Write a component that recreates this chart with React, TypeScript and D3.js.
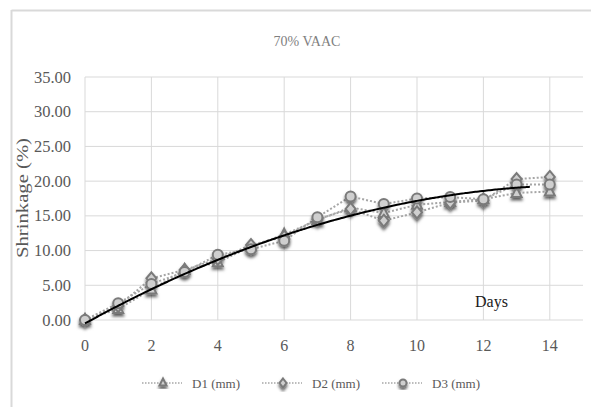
import React from "react";
import * as d3 from "d3";

const days = [0, 1, 2, 3, 4, 5, 6, 7, 8, 9, 10, 11, 12, 13, 14];
const d1 = [0.0, 1.6, 4.4, 7.2, 8.3, 10.6, 12.3, 14.4, 16.2, 15.4, 16.6, 17.0, 17.4, 18.3, 18.5];
const d2 = [0.0, 2.0, 6.0, 7.2, 8.8, 10.8, 12.0, 14.5, 16.0, 14.3, 15.5, 16.9, 17.2, 20.3, 20.6];
const d3v = [0.0, 2.4, 5.2, 6.9, 9.4, 10.2, 11.4, 14.8, 17.8, 16.7, 17.5, 17.7, 17.4, 19.5, 19.5];
const seriesNames = ["D1 (mm)", "D2 (mm)", "D3 (mm)"];
const seriesMarkers = ["triangle", "diamond", "circle"];
const yTicks = [0, 5, 10, 15, 20, 25, 30, 35];
const xTicks = [0, 2, 4, 6, 8, 10, 12, 14];
const trendCoefficients = [-0.5, 2.64, -0.0874];
const trendRange = [0, 13.4];

const W = 591;
const H = 407;
const left = 85;
const right = 583;
const top = 77;
const bottom = 320;
const FONT = "'Liberation Serif', 'Times New Roman', serif";

function Marker({ type, x, y, s }: { type: string; x: number; y: number; s: number }) {
  const common = { fill: "#cfcfcf", stroke: "#7a7a7a", strokeWidth: 2 };
  if (type === "circle") return <circle cx={x} cy={y} r={s} {...common} />;
  if (type === "diamond")
    return <path d={`M${x},${y - s - 1}L${x + s},${y}L${x},${y + s + 1}L${x - s},${y}Z`} {...common} />;
  return <path d={`M${x},${y - s - 1}L${x + s},${y + s - 1}L${x - s},${y + s - 1}Z`} {...common} />;
}

export default function App() {
  const x = d3.scaleLinear().domain([0, 15]).range([left, right]);
  const y = d3.scaleLinear().domain([0, 35]).range([bottom, top]);
  const seriesData = [d1, d2, d3v];

  const line = d3
    .line<[number, number]>()
    .x((d) => x(d[0]))
    .y((d) => y(d[1]));

  const trendPts: [number, number][] = d3
    .range(trendRange[0], trendRange[1] + 0.001, 0.1)
    .map((t) => [t, trendCoefficients[0] + trendCoefficients[1] * t + trendCoefficients[2] * t * t]);
  const trendLine = d3
    .line<[number, number]>()
    .x((d) => x(d[0]))
    .y((d) => y(d[1]))
    .curve(d3.curveMonotoneX);

  const legendY = 383;

  return (
    <svg
      width={W}
      height={H}
      style={{ position: "absolute", left: 0, top: 0, background: "#fff" }}
      fontFamily={FONT}
    >
      <defs>
        <filter id="sh" x="-50%" y="-50%" width="200%" height="200%">
          <feDropShadow dx="0" dy="2.5" stdDeviation="1.6" floodColor="#000" floodOpacity="0.65" />
        </filter>
      </defs>
      <rect x={0} y={0} width={W} height={H} fill="#fff" />
      <line x1={11.5} y1={10} x2={11.5} y2={H} stroke="#d9d9d9" strokeWidth={2} />
      <line x1={11.5} y1={10.5} x2={W} y2={10.5} stroke="#d9d9d9" strokeWidth={2} />

      <text x={307} y={46} textAnchor="middle" fontSize={14} fill="#7f7f7f">
        70% VAAC
      </text>

      {yTicks.map((t) => (
        <line key={"gy" + t} x1={left} x2={right} y1={y(t)} y2={y(t)} stroke="#d9d9d9" strokeWidth={1} />
      ))}
      {xTicks.map((t) => (
        <line key={"gx" + t} x1={x(t)} x2={x(t)} y1={top} y2={bottom} stroke="#d9d9d9" strokeWidth={1} />
      ))}

      {yTicks.map((t) => (
        <text key={"ty" + t} x={71} y={y(t) + 5.5} textAnchor="end" fontSize={16.5} fill="#595959">
          {t.toFixed(2)}
        </text>
      ))}
      {xTicks.map((t) => (
        <text key={"tx" + t} x={x(t)} y={351} textAnchor="middle" fontSize={16} fill="#595959">
          {t}
        </text>
      ))}

      <text
        transform={`translate(28,${198}) rotate(-90)`}
        textAnchor="middle"
        fontSize={16}
        fill="#595959"
        textLength={120}
        lengthAdjust="spacingAndGlyphs"
      >
        Shrinkage (%)
      </text>

      <text x={475} y={307} fontSize={16} fill="#1a1a1a">
        Days
      </text>

      {seriesData.map((s, i) => (
        <path
          key={"l" + i}
          d={line(days.map((d, j) => [d, s[j]] as [number, number])) || ""}
          fill="none"
          stroke="#a6a6a6"
          strokeWidth={2}
          strokeDasharray="2,2"
        />
      ))}

      <g filter="url(#sh)">
        {seriesData.map((s, i) =>
          days.map((d, j) => (
            <Marker key={`m${i}-${j}`} type={seriesMarkers[i]} x={x(d)} y={y(s[j])} s={5} />
          ))
        )}
      </g>

      <path d={trendLine(trendPts) || ""} fill="none" stroke="#000" strokeWidth={2} />

      {seriesNames.map((name, i) => {
        const lx = 142 + i * 120;
        return (
          <g key={"lg" + i}>
            <line
              x1={lx}
              x2={lx + 40}
              y1={legendY}
              y2={legendY}
              stroke="#a6a6a6"
              strokeWidth={1.5}
              strokeDasharray="1.5,1.5"
            />
            <g filter="url(#sh)">
              <Marker type={seriesMarkers[i]} x={lx + 21} y={legendY} s={3.5} />
            </g>
            <text x={lx + 50} y={legendY + 5} fontSize={13} fill="#595959">
              {name}
            </text>
          </g>
        );
      })}
    </svg>
  );
}
